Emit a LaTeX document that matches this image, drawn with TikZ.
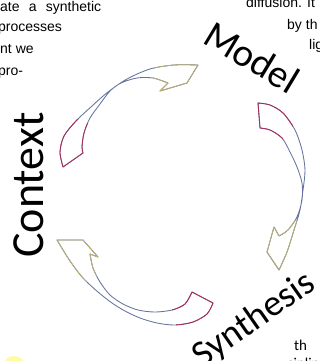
\documentclass[tikz,border=0pt]{standalone}
\usepackage{fontspec}
\setmainfont{Carlito}
\newfontfamily\bodyfont{Liberation Sans}
\usetikzlibrary{positioning}

\definecolor{tailred}{RGB}{170,40,90}
\definecolor{midblue}{RGB}{100,115,160}
\definecolor{headkhaki}{RGB}{185,175,115}

\begin{document}
\begin{tikzpicture}[
  x=1pt, y=-1pt,
  outline/.style={draw=midblue, line width=0.85pt, line join=round},
  cyclelabel/.style={font=\fontsize{#1}{#1}\selectfont, inner sep=0pt},
  bodytext/.style={font=\bodyfont\fontsize{14}{16}\selectfont, inner sep=0pt, anchor=base west},
  coltext/.style={font=\fontsize{15}{18}\selectfont, inner sep=0pt, anchor=base west}
]
\useasboundingbox (0,0) rectangle (320,361);
\clip (0,0) rectangle (320,361);

% outlines of the three twisted arrows
\path[save path=\arrowctx]
  plot[smooth] coordinates {(63,167) (60,152) (64,136) (76,121) (92,106) (108,92) (127,79) (150,69) (174,65) (198,65)}
  -- (187,83) -- (160,91) -- (168,83)
  -- plot[smooth] coordinates {(168,83) (153,78) (137,78) (121,83) (110,91) (100,104) (90,118) (84,133) (82,147) (83,153)}
  -- cycle;
\path[save path=\arrowmod]
  plot[smooth] coordinates {(258,103) (270,105) (283,113) (295,130) (302,150) (305,170) (303,190) (300,210) (294,230) (287,252) (279,270)}
  -- (267,252) -- (274,227) -- (279,236)
  -- plot[smooth] coordinates {(279,236) (288,230) (297,217) (302,200) (302,183) (297,167) (290,152) (282,138) (270,130) (260,128)}
  -- cycle;
\path[save path=\arrowsyn]
  plot[smooth] coordinates {(213,303) (207,314) (193,322) (175,325) (157,323) (140,318) (125,311) (112,303) (98,292) (83,278) (70,261) (57,240)}
  -- (83,240) -- (98,257) -- (90,254)
  -- plot[smooth] coordinates {(90,254) (93,268) (100,282) (110,295) (123,304) (138,310) (155,312) (172,310) (185,304) (192,292)}
  -- cycle;

\draw[outline, use path=\arrowctx];
\draw[outline, use path=\arrowmod];
\draw[outline, use path=\arrowsyn];

% tails
\begin{scope}
  \clip (70,150) circle[radius=32] (265,115) circle[radius=30] (202,310) circle[radius=30];
  \draw[outline, draw=tailred, use path=\arrowctx];
  \draw[outline, draw=tailred, use path=\arrowmod];
  \draw[outline, draw=tailred, use path=\arrowsyn];
\end{scope}
% heads
\begin{scope}
  \clip (185,75) circle[radius=32] (282,250) circle[radius=32] (75,252) circle[radius=32];
  \draw[outline, draw=headkhaki, use path=\arrowctx];
  \draw[outline, draw=headkhaki, use path=\arrowmod];
  \draw[outline, draw=headkhaki, use path=\arrowsyn];
\end{scope}

% labels
\node[cyclelabel=39, rotate=-31] (model) at (252,57) {Model};
\node[cyclelabel=37, rotate=35] (synthesis) at (254,320) {Synthesis};
\node[cyclelabel=46, rotate=90] (context) at (29,185) {Context};

% running text around the figure
\node[bodytext] (left1) at (0,12) {\makebox[101pt][s]{ate a synthetic}};
\node[bodytext] (left2) at (-2,32) {processes};
\node[bodytext] (left3) at (0,53) {nt we};
\node[bodytext] (left4) at (-2,75) {pro-};
\node[bodytext] (right1) at (246,8) {diffusion. It};
\node[bodytext] (right2) at (287,30) {by th};
\node[bodytext] (right3) at (309,50) {lig};
\node[coltext] (col1) at (294,350) {th};
\node[coltext] (col2) at (287,368) {ciplin};

\fill[yellow!35] (14,364) ellipse[x radius=10, y radius=8];
\end{tikzpicture}
\end{document}
